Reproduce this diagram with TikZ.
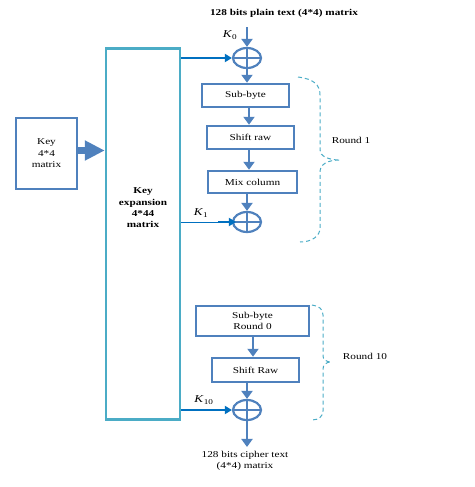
\documentclass[tikz,border=0pt]{standalone}
\usepackage{fontspec}
\setmainfont{Liberation Serif}[FakeStretch=1.25]
\usetikzlibrary{arrows.meta,shapes.geometric}
\definecolor{obox}{HTML}{4F81BD}
\definecolor{aqua}{HTML}{4BACC6}
\definecolor{dblue}{HTML}{0070C0}
\begin{document}
\begin{tikzpicture}[x=1pt,y=-1pt,
  font=\fontsize{9}{10.5}\selectfont,
  box/.style={draw=obox,line width=2.5pt,inner sep=0pt,align=center},
  xor/.style={ellipse,draw=obox,line width=2.2pt,minimum width=28pt,minimum height=20pt,inner sep=0pt,
    path picture={\draw[obox,line width=2pt] (path picture bounding box.north) -- (path picture bounding box.south)
      (path picture bounding box.west) -- (path picture bounding box.east);}},
  arr/.style={draw=obox,line width=2.5pt,-{Triangle[length=8pt,width=11pt]}},
  karr/.style={draw=dblue,line width=2pt,-{Triangle[length=7pt,width=8pt]}},
  brace/.style={draw=aqua,line width=1pt,dash pattern=on 4pt off 3pt},
  lbl/.style={inner sep=1pt,align=center},
  klbl/.style={inner sep=1pt,font=\fontsize{10.5}{12}\selectfont}]
\useasboundingbox (0,0) rectangle (474,487);

\node[box,minimum width=61pt,minimum height=71pt,font=\fontsize{9}{11.5}\selectfont] (key) at (46.5,153.5) {Key\\4*4\\matrix};
\node[draw=aqua,line width=2.5pt,minimum width=74pt,minimum height=371pt,inner sep=0pt] (kexp) at (143,234) {};
\node[lbl,font=\fontsize{9}{11.3}\selectfont\bfseries] (kexpl) at (143,208) {Key\\expansion\\4*44\\matrix};

\node[lbl,font=\fontsize{9}{10.5}\selectfont\bfseries] (pt) at (284,13) {128 bits plain text (4*4) matrix};
\node[xor] (x0) at (247,58) {};
\node[klbl] (k0) at (230,35) {\textit{K}\textsubscript{0}};
\node[box,minimum width=87pt,minimum height=23pt] (sb) at (245.5,95.5) {Sub-byte};
\node[box,minimum width=87pt,minimum height=23pt] (sr) at (250.5,137.5) {Shift raw};
\node[box,minimum width=89pt,minimum height=22pt] (mc) at (252.5,182) {Mix column};
\node[xor] (x1) at (247,222) {};
\node[klbl] (k1) at (201,213) {\textit{K}\textsubscript{1}};

\node[box,minimum width=113pt,minimum height=30pt] (sb10) at (252.5,321) {Sub-byte\\Round 0};
\node[box,minimum width=87pt,minimum height=24pt] (sr10) at (255.5,370) {Shift Raw};
\node[xor] (x10) at (247,410) {};
\node[klbl] (k10) at (204,400) {\textit{K}\textsubscript{10}};
\node[lbl,font=\fontsize{9}{11.5}\selectfont] (ct) at (245,461) {128 bits cipher text\\(4*4) matrix};

\node[lbl] (r1) at (351,140) {Round 1};
\node[lbl] (r10) at (365,356) {Round 10};

% connectors
\draw[draw=obox,line width=7pt,-{Triangle[length=20pt,width=19pt]}] ([yshift=3pt]key.east) -- ([yshift=3pt]kexp.west |- key.east);
\draw[arr,shorten <=9pt] (pt.south -| x0) -- (x0.north);
\draw[karr] (kexp.east |- x0) -- (x0.west);
\draw[arr] (x0.south) -- (sb.north -| x0);
\draw[arr] ([xshift=3.5pt]sb.south) -- ([xshift=-1.5pt]sr.north);
\draw[arr] ([xshift=-1.5pt]sr.south) -- ([xshift=-3.5pt]mc.north);
\draw[arr] (mc.south -| x1) -- (x1.north);
\draw[draw=dblue,line width=1pt] (kexp.east |- x1) -- (x1.west);
\draw[karr] ([xshift=-14pt]x1.west) -- ([xshift=4pt]x1.west);
\draw[arr] ([xshift=0.5pt]sb10.south) -- ([xshift=-2.5pt]sr10.north);
\draw[arr] (sr10.south -| x10) -- (x10.north);
\draw[karr] (kexp.east |- x10) -- (x10.west);
\draw[arr,shorten >=3pt] (x10.south) -- (ct.north -| x10);

% braces
\draw[brace] (298,77) .. controls (314,79) and (320,85) .. (320,95) -- (320,150)
  .. controls (320,156) and (328,160) .. (340,160)
  .. controls (328,160) and (320,164) .. (320,172) -- (320,228)
  .. controls (320,236) and (312,242) .. (300,242);
\draw[brace] (312,305) .. controls (319,306) and (323,309) .. (323,315) -- (323,356)
  .. controls (323,359) and (326,362) .. (331,362)
  .. controls (326,362) and (323,365) .. (323,369) -- (323,411)
  .. controls (323,416) and (319,420) .. (312,420);
\end{tikzpicture}
\end{document}
